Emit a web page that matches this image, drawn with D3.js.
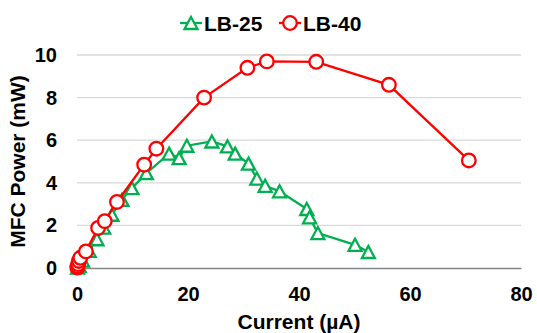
<!DOCTYPE html>
<html>
<head>
<meta charset="utf-8">
<script src="https://cdn.jsdelivr.net/npm/d3@7"></script>
<style>
    body { margin: 0; background: #fff; }
    text { font-family: "Liberation Sans", Arial, sans-serif; font-weight: bold; fill: #000; }
</style>
</head>
<body>
<script>
(function () {
    "use strict";

    // series: [current (uA), power (mW)]
    var lb25 = [
        [0.1, 0.02], [0.4, 0.1], [1.0, 0.35], [2.2, 0.8], [3.6, 1.35], [4.8, 1.9],
        [6.3, 2.5], [8.1, 3.2], [9.9, 3.75], [12.5, 4.45], [16.6, 5.37], [18.4, 5.16],
        [19.8, 5.74], [24.3, 5.94], [27.1, 5.71], [28.5, 5.37], [30.9, 4.9], [32.4, 4.2],
        [33.9, 3.86], [36.5, 3.6], [41.4, 2.77], [41.9, 2.38], [43.4, 1.64], [50.1, 1.09],
        [52.5, 0.75]
    ];
    var lb40 = [
        [0.05, 0.02], [0.1, 0.08], [0.2, 0.18], [0.35, 0.33], [0.6, 0.48], [1.6, 0.78],
        [3.8, 1.88], [5.0, 2.2], [7.2, 3.1], [12.1, 4.85], [14.3, 5.6], [22.9, 8.0],
        [30.7, 9.4], [34.2, 9.7], [43.1, 9.68], [56.2, 8.6], [70.6, 5.05]
    ];
    var seriesNames = ["LB-25", "LB-40"];
    var xTicks = [0, 20, 40, 60, 80];
    var yTicks = [0, 2, 4, 6, 8, 10];

    var width = 537, height = 333;
    var margin = {top: 55, right: 16, bottom: 65, left: 77};

    var svg = d3.select("body").append("svg")
        .attr("width", width)
        .attr("height", height);

    var x = d3.scaleLinear().domain([0, 80]).range([margin.left, width - margin.right]);
    var y = d3.scaleLinear().domain([0, 10]).range([height - margin.bottom, margin.top]);

    // horizontal gridlines
    svg.append("g").selectAll("line")
        .data(yTicks.filter(function (d) { return d > 0; }))
        .enter().append("line")
        .attr("x1", x(0)).attr("x2", x(80))
        .attr("y1", function (d) { return y(d); })
        .attr("y2", function (d) { return y(d); })
        .attr("stroke", "#d9d9d9")
        .attr("stroke-width", 1.3);

    // x axis
    var xAxis = svg.append("g")
        .attr("transform", "translate(0," + y(0) + ")")
        .call(d3.axisBottom(x).tickValues(xTicks).tickSize(0).tickPadding(19));
    xAxis.select(".domain").attr("stroke", "#868686").attr("stroke-width", 1.3);
    xAxis.selectAll("text").style("font-size", "20px").style("font-family", "Liberation Sans, Arial, sans-serif").style("font-weight", "bold");

    // y axis
    var yAxis = svg.append("g")
        .attr("transform", "translate(" + (x(0) - 20) + ",0)")
        .call(d3.axisLeft(y).tickValues(yTicks).tickSize(0).tickPadding(0));
    yAxis.select(".domain").remove();
    yAxis.selectAll("text").style("font-size", "20px").style("font-family", "Liberation Sans, Arial, sans-serif").style("font-weight", "bold");

    // axis titles
    svg.append("text")
        .attr("x", (x(0) + x(80)) / 2)
        .attr("y", 329)
        .attr("text-anchor", "middle")
        .style("font-size", "21px")
        .text("Current (\u00b5A)");

    svg.append("text")
        .attr("transform", "translate(25," + ((y(0) + y(10)) / 2) + ") rotate(-90)")
        .attr("text-anchor", "middle")
        .style("font-size", "21px")
        .text("MFC Power (mW)");

    var line = d3.line()
        .x(function (d) { return x(d[0]); })
        .y(function (d) { return y(d[1]); });

    var green = "#00b050", red = "#ff0000";

    // Excel-style triangle: about as tall as it is wide
    var triType = {
        draw: function (ctx, size) {
            var w = 6.5, h = 6;
            ctx.moveTo(0, -h);
            ctx.lineTo(w, h);
            ctx.lineTo(-w, h);
            ctx.closePath();
        }
    };
    var tri = d3.symbol().type(triType);

    // LB-25
    svg.append("path").datum(lb25)
        .attr("d", line).attr("fill", "none")
        .attr("stroke", green).attr("stroke-width", 2.3);
    svg.append("g").selectAll("path")
        .data(lb25).enter().append("path")
        .attr("d", tri)
        .attr("transform", function (d) { return "translate(" + x(d[0]) + "," + y(d[1]) + ")"; })
        .attr("fill", "#fff").attr("stroke", green).attr("stroke-width", 2.3);

    // LB-40
    svg.append("path").datum(lb40)
        .attr("d", line).attr("fill", "none")
        .attr("stroke", red).attr("stroke-width", 2.3);
    svg.append("g").selectAll("circle")
        .data(lb40).enter().append("circle")
        .attr("cx", function (d) { return x(d[0]); })
        .attr("cy", function (d) { return y(d[1]); })
        .attr("r", 6.8)
        .attr("fill", "#fff").attr("stroke", red).attr("stroke-width", 2.3);

    // legend
    var legend = svg.append("g").attr("transform", "translate(0,23)");
    var items = [
        {name: seriesNames[0], color: green, x0: 180},
        {name: seriesNames[1], color: red, x0: 279}
    ];
    items.forEach(function (it, i) {
        var g = legend.append("g").attr("transform", "translate(" + it.x0 + ",0)");
        g.append("line").attr("x1", 0).attr("x2", 22).attr("y1", 0).attr("y2", 0)
            .attr("stroke", it.color).attr("stroke-width", 2.3);
        if (i === 0) {
            g.append("path").attr("d", tri).attr("transform", "translate(11,0)")
                .attr("fill", "#fff").attr("stroke", it.color).attr("stroke-width", 2.3);
        } else {
            g.append("circle").attr("cx", 11).attr("cy", 0).attr("r", 6.8)
                .attr("fill", "#fff").attr("stroke", it.color).attr("stroke-width", 2.3);
        }
        g.append("text").attr("x", 24).attr("y", 7.5).style("font-size", "21px").text(it.name);
    });
})();
</script>
</body>
</html>
